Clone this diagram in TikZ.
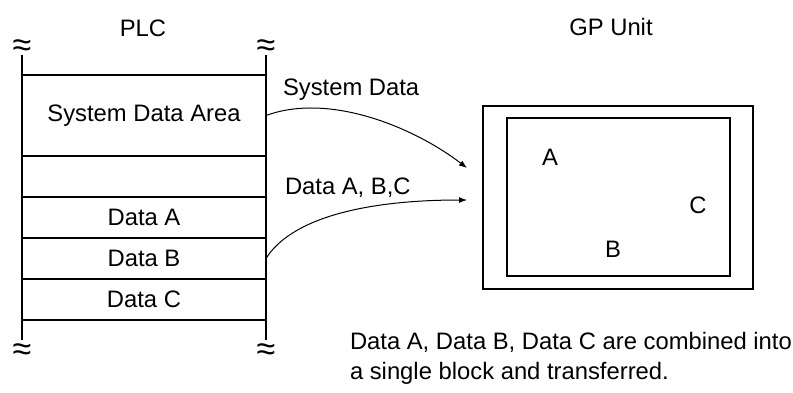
\documentclass[tikz,border=0pt]{standalone}
\usepackage{fontspec}
\setmainfont{Liberation Sans}
\usetikzlibrary{positioning}
\usetikzlibrary{arrows.meta}

\begin{document}
\begin{tikzpicture}[x=1pt,y=-1pt,
    every node/.style={inner sep=0pt,outer sep=0pt,font=\fontsize{23.8}{30}\selectfont},
    cell/.style={draw,line width=1.6pt,minimum width=244pt},
    wall/.style={line width=1.6pt},
    cut/.style={font=\fontsize{34}{34}\selectfont},
    frame/.style={draw,line width=1.6pt},
    flow/.style={line width=1pt,-{Latex[length=8pt,width=6pt]}}]
            \useasboundingbox (0,0) rectangle (793,392);
            % PLC memory
            \node (plc) at (143,28) {PLC};
            \node[cell,minimum height=81pt] (sda) at (144,115.5) {System Data Area};
            \node[cell,minimum height=41pt,below=0pt of sda] (gap) {};
            \node[cell,minimum height=41pt,below=0pt of gap] (dA) {Data A};
            \node[cell,minimum height=41pt,below=0pt of dA] (dB) {Data B};
            \node[cell,minimum height=41pt,below=0pt of dB] (dC) {Data C};
            \draw[wall] (sda.north west) -- ++(0,-20);
            \draw[wall] (sda.north east) -- ++(0,-20);
            \draw[wall] (dC.south west) -- ++(0,20);
            \draw[wall] (dC.south east) -- ++(0,20);
            \node[cut] (wtl) at (22,48) {≈};
            \node[cut] (wtr) at (266,48) {≈};
            \node[cut] (wbl) at (22,352) {≈};
            \node[cut] (wbr) at (266,352) {≈};

            % GP unit
            \node (gplbl) at (611,27) {GP Unit};
            \node[frame,minimum width=270pt,minimum height=183pt] (gp) at (618,197.5) {};
            \node[frame,minimum width=223pt,minimum height=158pt] (scr) at (618.5,197) {};
            \node (la) at (550,157) {A};
            \node (lb) at (613,249) {B};
            \node (lc) at (698,205) {C};

            % transfers
            \coordinate (in1) at (467,168);
            \coordinate (in2) at (467,200);
            \draw[flow] (sda.east) .. controls (330,92) and (415,128) .. (in1);
            \draw[flow] (dB.east) .. controls (290,220) and (360,200) .. (in2);
            \node[anchor=west] (lsys) at (283,90) {System Data};
            \node[anchor=west] (labc) at (285,188) {Data A, B,C};

            \node[anchor=west,align=left] (note) at (350,358) {Data A, Data B, Data C are combined into\\a single block and transferred.};
        \end{tikzpicture}
\end{document}
